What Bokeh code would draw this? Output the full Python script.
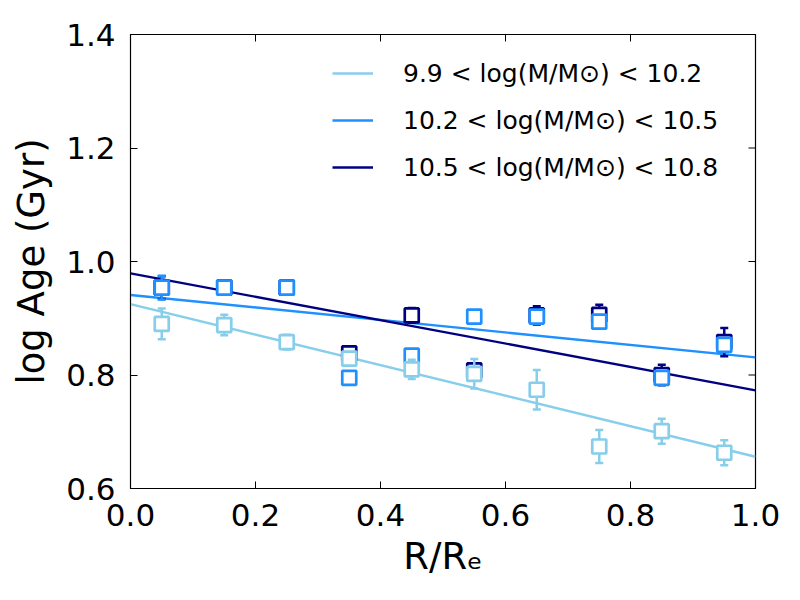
import math
from bokeh.plotting import figure
from bokeh.models import (ColumnDataSource, FixedTicker, NumeralTickFormatter, Range1d,
                          Legend, LegendItem)
from bokeh.embed import file_html
from bokeh.resources import INLINE

# ---- data ----
radius = [0.05, 0.15, 0.25, 0.35, 0.45, 0.55, 0.65, 0.75, 0.85, 0.95]

age_low = [0.890, 0.888, 0.858, 0.829, 0.810, 0.802, 0.774, 0.674, 0.701, 0.663]
err_low = [0.027, 0.018, 0.013, 0.010, 0.017, 0.026, 0.035, 0.029, 0.022, 0.022]

age_mid = [0.954, 0.954, 0.954, 0.795, 0.834, 0.903, 0.903, 0.894, 0.795, 0.853]
err_mid = [0.021, 0.006, 0.006, 0.006, 0.006, 0.006, 0.010, 0.006, 0.008, 0.010]

age_high = [0.954, 0.954, 0.954, 0.838, 0.905, 0.808, 0.905, 0.906, 0.800, 0.858]
err_high = [0.020, 0.006, 0.006, 0.006, 0.013, 0.008, 0.016, 0.018, 0.018, 0.025]

fit_x = [0.0, 1.0]
fit_low = [0.925, 0.656]
fit_mid = [0.941, 0.831]
fit_high = [0.979, 0.773]

labels = ["9.9 < log(M/M\u2299) < 10.2",
          "10.2 < log(M/M\u2299) < 10.5",
          "10.5 < log(M/M\u2299) < 10.8"]
colors = ["#87CEEB", "#1E90FF", "#000080"]

x_ticks = [0.0, 0.2, 0.4, 0.6, 0.8, 1.0]
y_ticks = [0.6, 0.8, 1.0, 1.2, 1.4]
x_min, x_max = 0.0, 1.0
y_min, y_max = 0.6, 1.4

FONT = "DejaVu Sans"

p = figure(width=784, height=584, output_backend="svg", toolbar_location=None,
           x_range=Range1d(x_min, x_max), y_range=Range1d(y_min, y_max),
           min_border_left=130, min_border_right=29, min_border_top=34, min_border_bottom=96)
p.xgrid.visible = False
p.ygrid.visible = False
p.outline_line_color = "black"
p.outline_line_width = 1.2
p.background_fill_color = "white"
p.border_fill_color = "white"

for ax, ticks in ((p.xaxis[0], x_ticks), (p.yaxis[0], y_ticks)):
    ax.ticker = FixedTicker(ticks=ticks)
    ax.formatter = NumeralTickFormatter(format="0.0")
    ax.major_tick_in = 7
    ax.major_tick_out = 0
    ax.minor_tick_line_color = None
    ax.major_tick_line_color = "black"
    ax.axis_line_color = "black"
    ax.major_label_text_font = FONT
    ax.major_label_text_font_size = "31px"
    ax.major_label_text_color = "black"
    ax.major_label_standoff = 15
    ax.axis_label_text_font = FONT
    ax.axis_label_text_font_size = "37px"
    ax.axis_label_text_font_style = "normal"
    ax.axis_label_text_color = "black"
p.xaxis.axis_label = "R/R\u2091"
p.yaxis.axis_label = "log Age (Gyr)"
p.xaxis.axis_label_standoff = 6
p.yaxis.axis_label_standoff = 10

# inward ticks on the top and right edges (clipped to the frame)
p.scatter(x_ticks, [y_max] * len(x_ticks), marker="dash", size=14, angle=math.pi / 2,
          line_color="black", line_width=1)
p.scatter([x_max] * len(y_ticks), y_ticks, marker="dash", size=14,
          line_color="black", line_width=1)

# fit lines
fit_renderers = []
for fy, c in zip([fit_low, fit_mid, fit_high], colors):
    r = p.line(fit_x, fy, line_color=c, line_width=2.4)
    fit_renderers.append(r)

# data points with error bars (navy first, then dodgerblue, then skyblue on top)
for ages, errs, c in [(age_high, err_high, colors[2]),
                      (age_mid, err_mid, colors[1]),
                      (age_low, err_low, colors[0])]:
    src = ColumnDataSource(dict(
        x=radius, y=ages,
        upper=[a + e for a, e in zip(ages, errs)],
        lower=[a - e for a, e in zip(ages, errs)]))
    p.segment("x", "lower", "x", "upper", source=src, line_color=c, line_width=2.5)
    p.scatter("x", "upper", source=src, marker="dash", size=8, line_color=c, line_width=2.5)
    p.scatter("x", "lower", source=src, marker="dash", size=8, line_color=c, line_width=2.5)
    p.scatter("x", "y", source=src, marker="square", size=14,
              fill_color="white", line_color=c, line_width=2.7)

legend = Legend(items=[LegendItem(label=l, renderers=[r]) for l, r in zip(labels, fit_renderers)],
                location=(202, 306))
legend.label_text_font = FONT
legend.label_text_font_size = "25px"
legend.label_text_color = "black"
legend.border_line_color = None
legend.background_fill_alpha = 0
legend.glyph_width = 41
legend.glyph_height = 30
legend.label_height = 30
legend.spacing = 17
legend.label_standoff = 30
legend.padding = 0
legend.margin = 0
p.add_layout(legend, "center")

open("out.html", "w").write(file_html(p, INLINE))
